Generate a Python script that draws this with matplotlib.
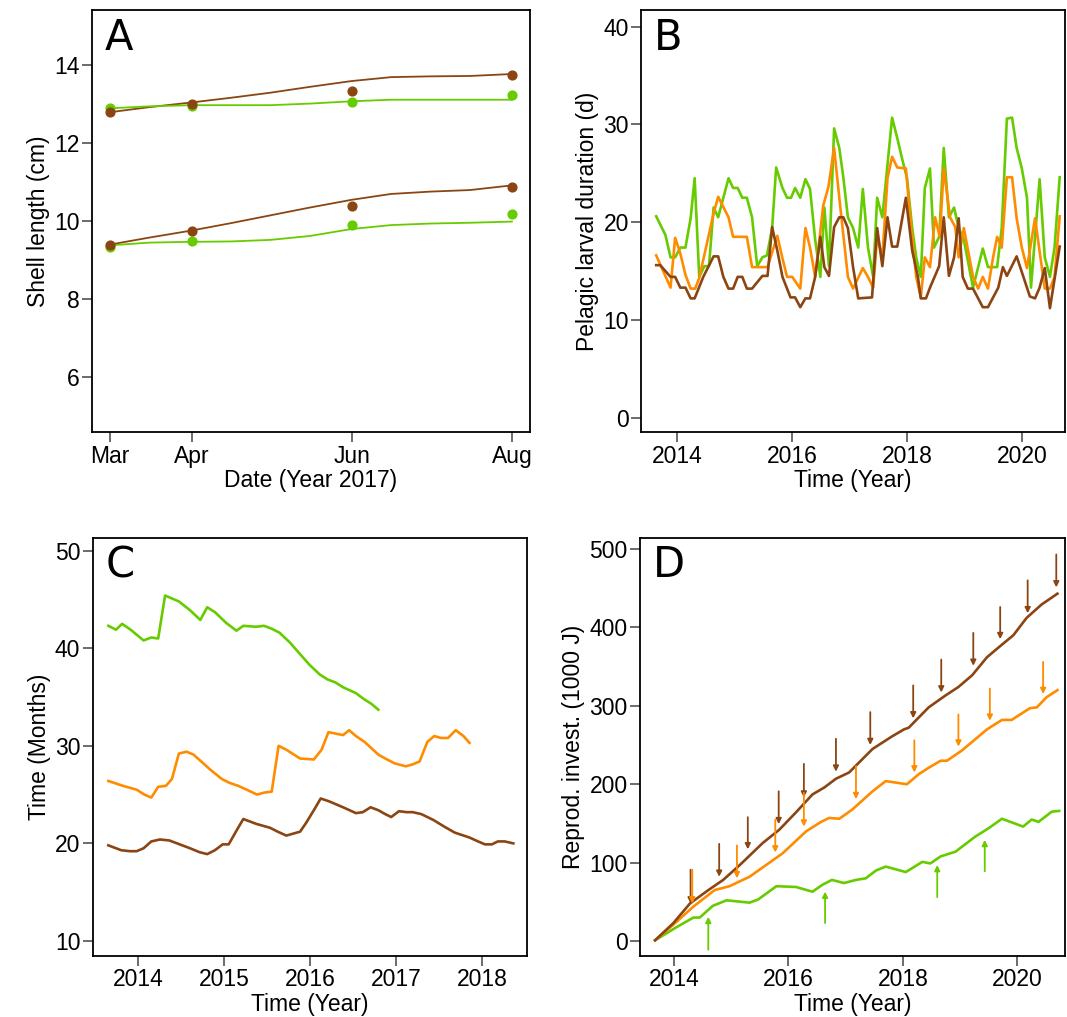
import matplotlib

matplotlib.use("Agg")
import matplotlib.pyplot as plt

BROWN = "#8b4513"
ORANGE = "#ff8c00"
GREEN = "#66cc00"

plt.rcParams["font.family"] = ["Liberation Sans", "DejaVu Sans"]
plt.rcParams["font.size"] = 14

# ---- Panel A: shell length (day of year 2017) ----
a_obs_days = [60, 91, 152, 213]
a_obs_brown_hi = [12.8, 13.0, 13.35, 13.75]
a_obs_green_hi = [12.92, 12.97, 13.05, 13.25]
a_obs_brown_lo = [9.4, 9.75, 10.4, 10.88]
a_obs_green_lo = [9.35, 9.48, 9.9, 10.18]
a_fit_days = [60, 75, 91, 106, 121, 136, 152, 167, 182, 197, 213]
a_fit_brown_hi = [12.8, 12.93, 13.05, 13.17, 13.3, 13.45, 13.6, 13.7, 13.72, 13.73, 13.78]
a_fit_green_hi = [12.9, 12.95, 12.98, 12.98, 12.98, 13.02, 13.08, 13.12, 13.12, 13.12, 13.12]
a_fit_brown_lo = [9.4, 9.58, 9.76, 9.95, 10.15, 10.35, 10.55, 10.7, 10.76, 10.8, 10.92]
a_fit_green_lo = [9.38, 9.45, 9.47, 9.48, 9.52, 9.62, 9.8, 9.9, 9.94, 9.96, 9.99]

# ---- Panel B: pelagic larval duration ----
b_green_t = [2013.63, 2013.79, 2013.88, 2013.96, 2014.05, 2014.14, 2014.23, 2014.30, 2014.38, 2014.47,
             2014.55, 2014.63, 2014.71, 2014.89, 2014.97, 2015.05, 2015.13, 2015.21, 2015.30, 2015.39,
             2015.48, 2015.56, 2015.65, 2015.72, 2015.83, 2015.91, 2015.98, 2016.05, 2016.14, 2016.23,
             2016.31, 2016.40, 2016.49, 2016.56, 2016.64, 2016.73, 2016.82, 2016.89, 2016.97, 2017.06,
             2017.15, 2017.23, 2017.32, 2017.41, 2017.48, 2017.57, 2017.74, 2017.83, 2017.91, 2018.00,
             2018.09, 2018.16, 2018.24, 2018.31, 2018.40, 2018.47, 2018.56, 2018.64, 2018.73, 2018.82,
             2018.90, 2018.99, 2019.15, 2019.32, 2019.41, 2019.57, 2019.65, 2019.74, 2019.83, 2019.91,
             2020.00, 2020.09, 2020.16, 2020.31, 2020.40, 2020.49, 2020.57, 2020.66]
b_green_v = [20.6, 18.7, 16.4, 16.4, 17.4, 17.4, 20.4, 24.5, 14.4, 15.5,
             15.5, 21.5, 20.5, 24.5, 23.5, 23.5, 22.5, 22.5, 20.5, 15.5,
             16.4, 16.6, 19.4, 25.6, 23.5, 22.5, 22.5, 23.5, 22.5, 24.4,
             23.4, 18.2, 14.4, 21.5, 15.5, 29.6, 27.6, 24.6, 20.5, 19.4,
             17.4, 23.4, 17.4, 14.4, 22.5, 20.5, 30.7, 28.6, 26.6, 24.5,
             19.4, 16.4, 14.4, 23.5, 25.5, 17.4, 18.5, 27.6, 20.5, 21.5,
             19.4, 18.2, 13.3, 17.3, 15.4, 15.4, 19.4, 30.6, 30.7, 27.6,
             25.5, 22.5, 13.3, 24.4, 16.4, 14.4, 17.4, 24.6]
b_orange_t = [2013.63, 2013.88, 2013.96, 2014.05, 2014.14, 2014.23, 2014.31, 2014.38, 2014.63, 2014.71,
              2014.89, 2014.97, 2015.21, 2015.30, 2015.56, 2015.57, 2015.74, 2015.83, 2015.91, 2016.00,
              2016.14, 2016.23, 2016.31, 2016.40, 2016.54, 2016.63, 2016.73, 2016.82, 2016.97, 2017.06,
              2017.23, 2017.32, 2017.41, 2017.48, 2017.57, 2017.66, 2017.74, 2017.83, 2017.98, 2018.07,
              2018.16, 2018.24, 2018.31, 2018.40, 2018.49, 2018.57, 2018.64, 2018.75, 2018.84, 2018.90,
              2018.99, 2019.15, 2019.24, 2019.32, 2019.41, 2019.50, 2019.57, 2019.65, 2019.74, 2019.83,
              2019.91, 2020.00, 2020.09, 2020.23, 2020.40, 2020.49, 2020.57, 2020.66]
b_orange_v = [16.6, 13.3, 18.4, 16.8, 14.6, 13.2, 13.2, 14.3, 20.9, 22.6,
              20.5, 18.5, 18.5, 15.4, 15.4, 15.4, 18.6, 16.3, 14.4, 14.4,
              13.2, 19.4, 17.4, 14.4, 21.7, 23.6, 27.6, 22.5, 14.4, 13.2,
              15.3, 14.4, 13.3, 18.5, 16.4, 24.5, 26.7, 25.6, 25.5, 19.5,
              14.4, 12.3, 16.4, 15.4, 20.5, 18.5, 25.5, 20.5, 19.5, 16.4,
              19.4, 14.4, 13.2, 14.4, 13.2, 16.4, 18.5, 17.4, 24.6, 24.6,
              20.4, 17.4, 15.3, 20.4, 13.2, 13.2, 14.4, 20.6]
b_brown_t = [2013.63, 2013.70, 2013.88, 2013.96, 2014.05, 2014.14, 2014.23, 2014.30, 2014.45, 2014.63,
             2014.71, 2014.80, 2014.89, 2014.97, 2015.05, 2015.13, 2015.21, 2015.30, 2015.48, 2015.57,
             2015.65, 2015.74, 2015.83, 2015.97, 2016.05, 2016.14, 2016.23, 2016.31, 2016.40, 2016.49,
             2016.56, 2016.64, 2016.73, 2016.82, 2016.89, 2016.97, 2017.06, 2017.15, 2017.39, 2017.48,
             2017.57, 2017.66, 2017.74, 2017.83, 2017.98, 2018.09, 2018.19, 2018.24, 2018.33, 2018.40,
             2018.56, 2018.64, 2018.73, 2018.82, 2018.90, 2018.97, 2019.06, 2019.15, 2019.32, 2019.41,
             2019.50, 2019.59, 2019.67, 2019.74, 2019.91, 2020.14, 2020.23, 2020.31, 2020.40, 2020.49,
             2020.66]
b_brown_v = [15.6, 15.6, 14.4, 14.4, 13.3, 13.3, 12.2, 12.2, 14.4, 16.5,
             16.5, 14.4, 13.2, 13.2, 14.4, 14.4, 13.2, 13.2, 14.5, 14.5,
             19.5, 17.1, 14.4, 12.3, 12.3, 11.3, 12.2, 12.2, 14.4, 18.5,
             15.4, 14.5, 19.5, 20.5, 20.5, 19.4, 15.4, 12.2, 12.3, 19.4,
             15.5, 20.5, 17.5, 17.5, 22.5, 17.1, 14.4, 12.2, 12.2, 13.3,
             15.5, 20.5, 14.5, 16.4, 20.4, 14.4, 13.2, 13.2, 11.3, 11.3,
             12.3, 13.3, 15.4, 14.5, 16.5, 12.4, 12.2, 13.3, 15.3, 11.2,
             17.5]

# ---- Panel C: time (months) ----
c_green_t = [2013.65, 2013.74, 2013.81, 2013.91, 2014.06, 2014.15, 2014.23, 2014.31, 2014.47, 2014.60,
             2014.72, 2014.80, 2014.89, 2015.02, 2015.14, 2015.22, 2015.37, 2015.46, 2015.55, 2015.64,
             2015.76, 2015.88, 2015.99, 2016.11, 2016.20, 2016.29, 2016.38, 2016.53, 2016.62, 2016.71,
             2016.79]
c_green_v = [42.3, 41.9, 42.5, 41.9, 40.8, 41.1, 41.0, 45.4, 44.8, 43.9,
             42.9, 44.2, 43.7, 42.6, 41.8, 42.3, 42.2, 42.3, 42.0, 41.6,
             40.6, 39.4, 38.3, 37.3, 36.8, 36.5, 36.0, 35.4, 34.8, 34.3,
             33.7]
c_orange_t = [2013.65, 2013.82, 2013.98, 2014.07, 2014.15, 2014.23, 2014.32, 2014.39, 2014.47, 2014.56,
              2014.64, 2014.73, 2014.83, 2014.97, 2015.06, 2015.16, 2015.26, 2015.38, 2015.46, 2015.55,
              2015.63, 2015.72, 2015.88, 2016.04, 2016.13, 2016.21, 2016.38, 2016.45, 2016.53, 2016.63,
              2016.79, 2016.87, 2016.98, 2017.11, 2017.19, 2017.27, 2017.36, 2017.44, 2017.52, 2017.60,
              2017.69, 2017.78, 2017.85]
c_orange_v = [26.4, 25.9, 25.5, 25.0, 24.7, 25.8, 25.9, 26.6, 29.2, 29.4,
              29.1, 28.4, 27.6, 26.6, 26.2, 25.9, 25.5, 25.0, 25.2, 25.3,
              30.0, 29.6, 28.7, 28.6, 29.6, 31.4, 31.1, 31.6, 31.0, 30.4,
              29.1, 28.7, 28.2, 27.9, 28.1, 28.4, 30.4, 31.0, 30.8, 30.8,
              31.6, 31.0, 30.3]
c_brown_t = [2013.65, 2013.80, 2013.90, 2013.98, 2014.06, 2014.15, 2014.25, 2014.36, 2014.48, 2014.60,
             2014.71, 2014.80, 2014.89, 2014.98, 2015.05, 2015.14, 2015.22, 2015.37, 2015.53, 2015.62,
             2015.72, 2015.80, 2015.88, 2015.95, 2016.04, 2016.12, 2016.22, 2016.38, 2016.53, 2016.61,
             2016.70, 2016.79, 2016.87, 2016.94, 2017.03, 2017.12, 2017.19, 2017.29, 2017.43, 2017.56,
             2017.68, 2017.85, 2017.95, 2018.03, 2018.11, 2018.18, 2018.26, 2018.36]
c_brown_v = [19.8, 19.3, 19.2, 19.2, 19.5, 20.2, 20.4, 20.3, 19.9, 19.5,
             19.1, 18.9, 19.3, 19.9, 19.9, 21.3, 22.5, 22.0, 21.6, 21.2,
             20.8, 21.0, 21.2, 22.1, 23.4, 24.6, 24.3, 23.7, 23.1, 23.2,
             23.7, 23.4, 23.0, 22.7, 23.3, 23.2, 23.2, 23.0, 22.4, 21.7,
             21.1, 20.6, 20.2, 19.9, 19.9, 20.2, 20.2, 20.0]

# ---- Panel D: cumulative reproductive investment (1000 J) ----
d_brown_t = [2013.67, 2013.99, 2014.28, 2014.60, 2014.86, 2015.15, 2015.55, 2015.84, 2016.13, 2016.42,
             2016.63, 2016.83, 2017.06, 2017.47, 2017.81, 2018.02, 2018.10, 2018.45, 2018.74, 2018.97,
             2019.21, 2019.47, 2019.73, 2019.93, 2020.16, 2020.42, 2020.70]
d_brown_v = [1, 23, 48, 65, 78, 97, 125, 142, 164, 187,
             196, 207, 215, 245, 261, 270, 272, 298, 313, 324,
             339, 362, 378, 390, 412, 429, 443]
d_orange_t = [2013.67, 2013.99, 2014.34, 2014.71, 2014.97, 2015.32, 2015.61, 2015.90, 2016.31, 2016.57,
              2016.71, 2016.89, 2017.12, 2017.47, 2017.70, 2018.07, 2018.28, 2018.45, 2018.66, 2018.77,
              2019.03, 2019.47, 2019.73, 2019.90, 2020.22, 2020.34, 2020.51, 2020.70]
d_orange_v = [1, 21, 44, 65, 70, 82, 97, 112, 140, 152,
              157, 156, 168, 191, 204, 200, 213, 221, 230, 230,
              243, 270, 282, 282, 297, 298, 311, 320]
d_green_t = [2013.67, 2014.05, 2014.34, 2014.45, 2014.68, 2014.92, 2015.32, 2015.47, 2015.79, 2016.13,
             2016.42, 2016.60, 2016.76, 2016.97, 2017.18, 2017.35, 2017.53, 2017.70, 2018.05, 2018.34,
             2018.48, 2018.66, 2018.92, 2019.26, 2019.50, 2019.73, 2020.10, 2020.25, 2020.37, 2020.60,
             2020.73]
d_green_v = [1, 18, 30, 30, 45, 52, 49, 53, 70, 69,
             63, 72, 78, 74, 78, 80, 90, 95, 88, 101,
             99, 108, 114, 133, 144, 156, 146, 155, 152, 165,
             166]
# arrows: (time, tail value, tip value)
d_brown_arrows = [(2014.29, 91, 48), (2014.79, 124, 82), (2015.29, 158, 117), (2015.83, 191, 149),
                  (2016.27, 226, 183), (2016.83, 258, 216), (2017.43, 292, 250), (2018.18, 326, 284),
                  (2018.67, 359, 317), (2019.23, 393, 351), (2019.70, 426, 385), (2020.18, 460, 418),
                  (2020.68, 493, 451)]
d_orange_arrows = [(2014.32, 91, 48), (2015.10, 122, 80), (2015.77, 155, 113), (2016.27, 189, 146),
                   (2017.18, 223, 181), (2018.20, 256, 215), (2018.97, 289, 248), (2019.52, 322, 281),
                   (2020.45, 356, 315)]
d_green_arrows = [(2014.60, -11, 31), (2016.64, 23, 63), (2018.60, 56, 97), (2019.43, 89, 129)]

fig = plt.figure(figsize=(10.67, 10.17), dpi=100)
ax_a = fig.add_axes([0.086, 0.575, 0.411, 0.415])
ax_b = fig.add_axes([0.601, 0.575, 0.397, 0.415])
ax_c = fig.add_axes([0.087, 0.060, 0.407, 0.411])
ax_d = fig.add_axes([0.600, 0.060, 0.398, 0.411])

LW = 1.9

ax_a.plot(a_fit_days, a_fit_brown_hi, color=BROWN, lw=1.3)
ax_a.plot(a_fit_days, a_fit_green_hi, color=GREEN, lw=1.3)
ax_a.plot(a_fit_days, a_fit_brown_lo, color=BROWN, lw=1.3)
ax_a.plot(a_fit_days, a_fit_green_lo, color=GREEN, lw=1.3)
for vals, col in [(a_obs_green_hi, GREEN), (a_obs_green_lo, GREEN),
                  (a_obs_brown_hi, BROWN), (a_obs_brown_lo, BROWN)]:
    ax_a.scatter(a_obs_days, vals, color=col, s=40, zorder=3)
ax_a.set_xlim(53, 220)
ax_a.set_ylim(4.58, 15.42)
ax_a.set_xticks(a_obs_days, ["Mar", "Apr", "Jun", "Aug"])
ax_a.set_yticks([6, 8, 10, 12, 14])
ax_a.set_xlabel("Date (Year 2017)")
ax_a.set_ylabel("Shell length (cm)")

ax_b.plot(b_green_t, b_green_v, color=GREEN, lw=LW)
ax_b.plot(b_orange_t, b_orange_v, color=ORANGE, lw=LW)
ax_b.plot(b_brown_t, b_brown_v, color=BROWN, lw=LW)
ax_b.set_xlim(2013.37, 2020.75)
ax_b.set_ylim(-1.5, 41.7)
ax_b.set_xticks([2014, 2016, 2018, 2020])
ax_b.set_yticks([0, 10, 20, 30, 40])
ax_b.set_xlabel("Time (Year)")
ax_b.set_ylabel("Pelagic larval duration (d)")

ax_c.plot(c_green_t, c_green_v, color=GREEN, lw=LW)
ax_c.plot(c_orange_t, c_orange_v, color=ORANGE, lw=LW)
ax_c.plot(c_brown_t, c_brown_v, color=BROWN, lw=LW)
ax_c.set_xlim(2013.47, 2018.52)
ax_c.set_ylim(8.46, 51.3)
ax_c.set_xticks([2014, 2015, 2016, 2017, 2018])
ax_c.set_yticks([10, 20, 30, 40, 50])
ax_c.set_xlabel("Time (Year)")
ax_c.set_ylabel("Time (Months)")

ax_d.plot(d_green_t, d_green_v, color=GREEN, lw=LW)
ax_d.plot(d_orange_t, d_orange_v, color=ORANGE, lw=LW)
ax_d.plot(d_brown_t, d_brown_v, color=BROWN, lw=LW)
for arrows, col in [(d_brown_arrows, BROWN), (d_orange_arrows, ORANGE), (d_green_arrows, GREEN)]:
    for t, tail, tip in arrows:
        ax_d.annotate("", xy=(t, tip), xytext=(t, tail),
                      arrowprops=dict(arrowstyle="-|>", color=col, lw=1.3,
                                      mutation_scale=8, shrinkA=0, shrinkB=0))
ax_d.set_xlim(2013.41, 2020.83)
ax_d.set_ylim(-19, 514)
ax_d.set_xticks([2014, 2016, 2018, 2020])
ax_d.set_yticks([0, 100, 200, 300, 400, 500])
ax_d.set_xlabel("Time (Year)")
ax_d.set_ylabel("Reprod. invest. (1000 J)")

for ax, letter in zip([ax_a, ax_b, ax_c, ax_d], "ABCD"):
    ax.tick_params(direction="out", length=7, width=1.1, labelsize=16.5, color="#444444", pad=2)
    for sp in ax.spines.values():
        sp.set_linewidth(1.3)
    ax.xaxis.label.set_size(16.5)
    ax.yaxis.label.set_size(16.5)
    ax.xaxis.labelpad = 1
    ax.yaxis.labelpad = 3
    ax.text(0.03, 0.985, letter, transform=ax.transAxes, fontsize=30,
            family="DejaVu Sans", va="top", ha="left")

fig.savefig("out.png", dpi=100)
